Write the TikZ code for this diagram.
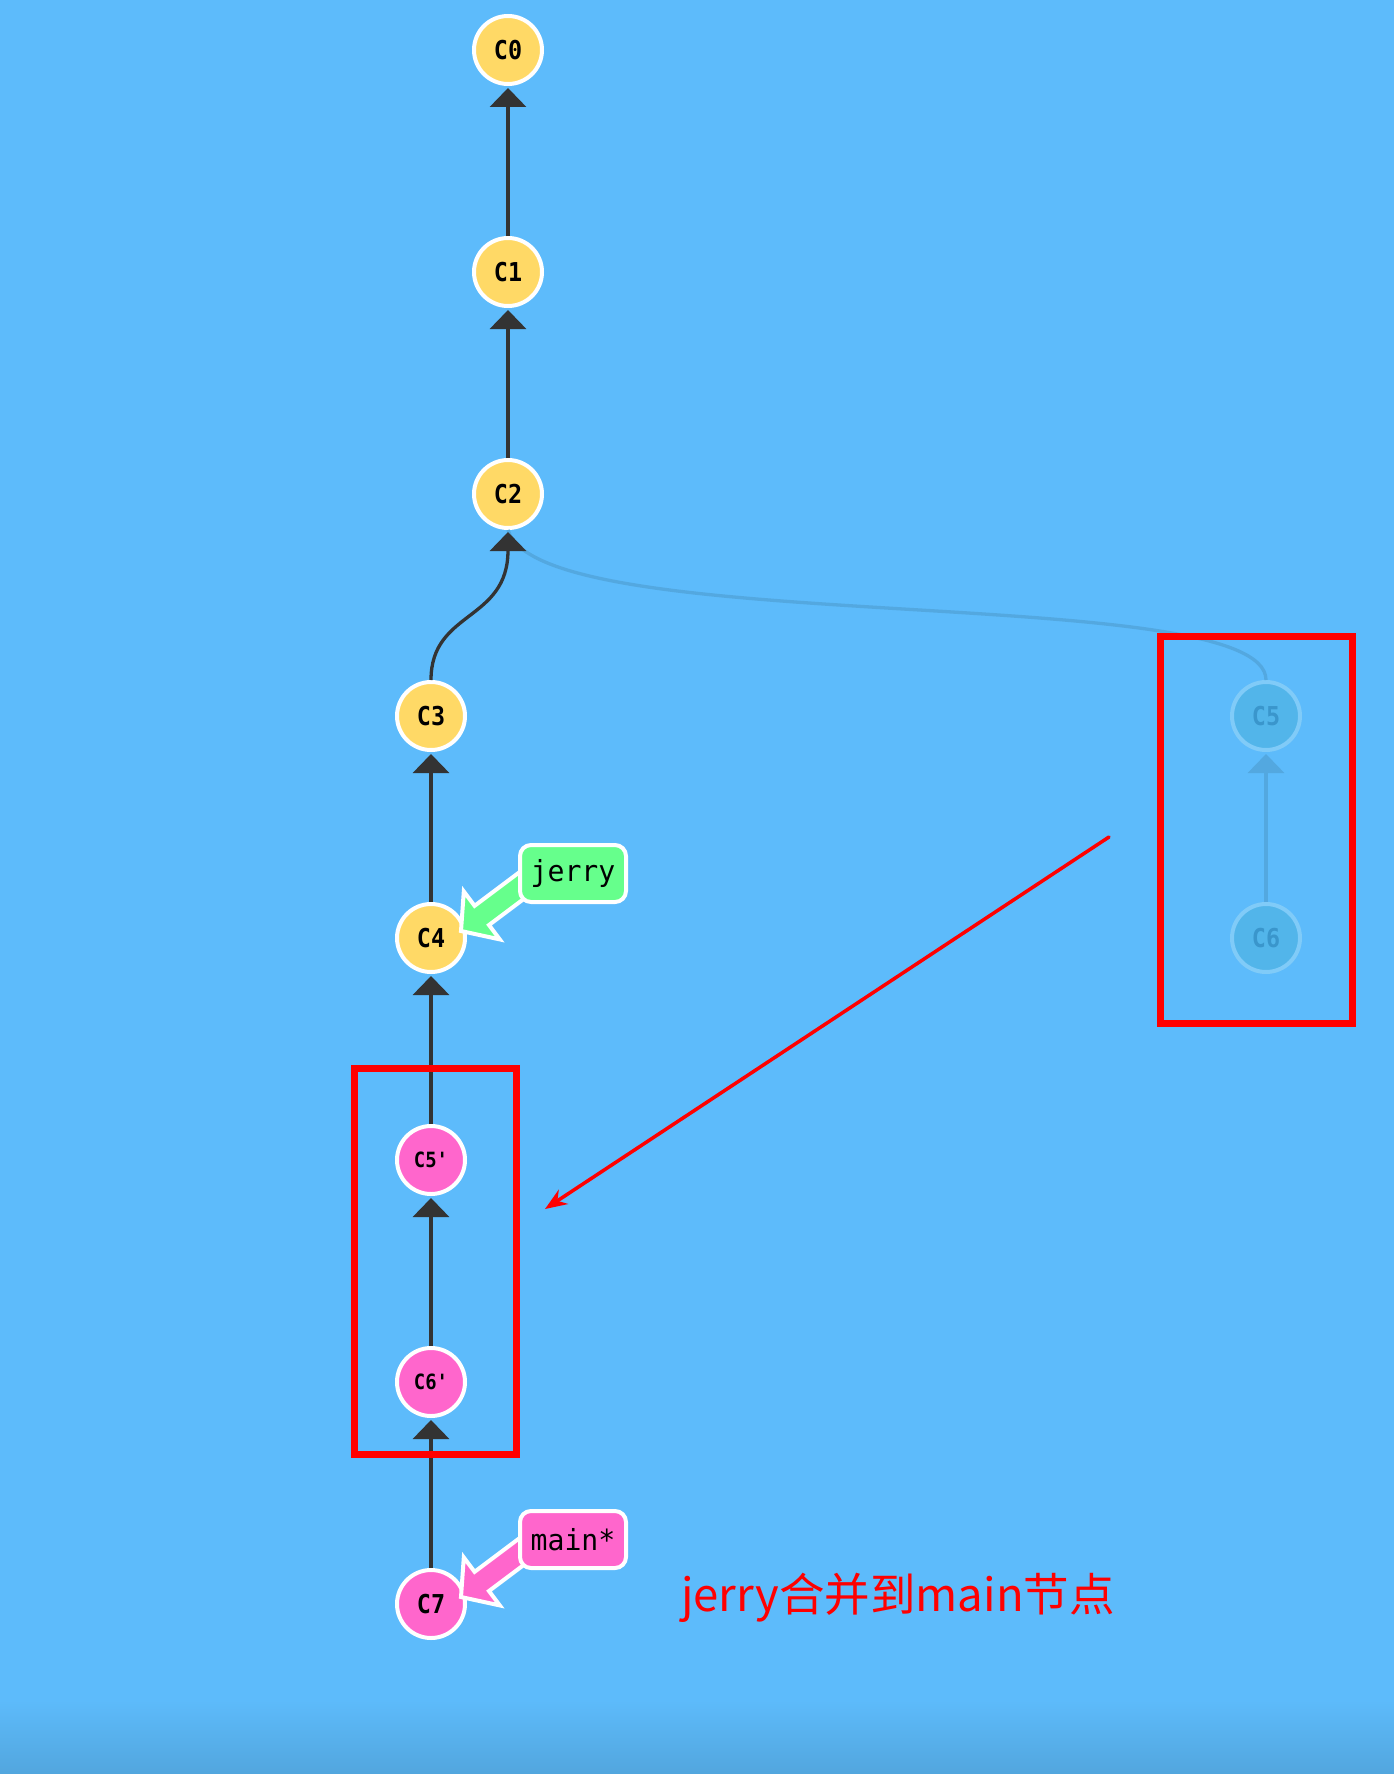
\documentclass[tikz,border=0pt]{standalone}
\usepackage{fontspec}
\setmainfont{DejaVu Sans}
\newfontfamily\monofont[FakeStretch=0.9,Ligatures=TeXOff]{DejaVu Sans Mono}
\newfontfamily\labelfont[FakeStretch=0.97,Ligatures=TeXOff]{DejaVu Sans Mono}
\newfontfamily\cjkfont{Noto Sans CJK SC}
\usetikzlibrary{arrows.meta}
\definecolor{bg}{HTML}{5DBBFB}
\definecolor{bgdark}{HTML}{52A6DE}
\definecolor{cyellow}{HTML}{FFD966}
\definecolor{cpink}{HTML}{FF66CC}
\definecolor{cgreen}{HTML}{66FF8C}
\definecolor{cdark}{HTML}{333333}
\definecolor{fadefill}{HTML}{52B5EA}
\definecolor{fadeborder}{HTML}{80CBF8}
\definecolor{fadetext}{HTML}{3A96CC}
\definecolor{fadeline}{HTML}{53A8E0}
\tikzset{
  commit/.style={circle, draw=white, line width=4pt, minimum size=68pt, inner sep=0pt,
    font=\monofont\bfseries\fontsize{26}{26}\selectfont},
  small/.style={font=\monofont\bfseries\fontsize{21}{21}\selectfont},
  yel/.style={commit, fill=cyellow},
  pnk/.style={commit, fill=cpink},
  faded/.style={commit, fill=fadefill, draw=fadeborder, text=fadetext},
  parentlink/.style={draw=cdark, line width=3.3pt, -{Triangle[width=36pt,length=19pt]}, shorten >=2pt},
  fadedlink/.style={draw=fadeline, line width=3.3pt},
  branchlabel/.style={draw=white, line width=4pt, rounded corners=11pt, minimum width=106pt,
    minimum height=57pt, inner sep=0pt, text=black, font=\labelfont\fontsize{29}{29}\selectfont},
  fatarrow/.style={draw=white, line width=4pt, line join=miter},
  redbox/.style={draw=red, line width=7pt},
  redarrow/.style={draw=red, line width=3.5pt, line cap=round, -{Stealth[length=22pt,width=17pt]}},
}
\begin{document}
\begin{tikzpicture}[x=1pt,y=-1pt]
\useasboundingbox (0,0) rectangle (1394,1774);
\fill[bg] (0,0) rectangle (1394,1774);
\shade[top color=bg, bottom color=bgdark] (0,1700) rectangle (1394,1774);

% commits
\node[yel] (c0) at (508,50) {C0};
\node[yel] (c1) at (508,272) {C1};
\node[yel] (c2) at (508,494) {C2};
\node[yel] (c3) at (431,716) {C3};
\node[yel] (c4) at (431,938) {C4};
\node[pnk, small] (c5p) at (431,1160) {C5'};
\node[pnk, small] (c6p) at (431,1382) {C6'};
\node[pnk] (c7) at (431,1604) {C7};
\node[faded] (c5) at (1266,716) {C5};
\node[faded] (c6) at (1266,938) {C6};

% faded links
\draw[fadedlink] (c5.north) .. controls (1266,580) and (540,640) .. (c2.south);
\draw[fadedlink, -{Triangle[width=36pt,length=19pt]}, shorten >=2pt] (c6.north) -- (c5.south);

% parent links
\draw[parentlink] (c1.north) -- (c0.south);
\draw[parentlink] (c2.north) -- (c1.south);
\draw[parentlink] (c3.north) .. controls (431,610) and (508,622) .. (c2.south);
\draw[parentlink] (c4.north) -- (c3.south);
\draw[parentlink] (c5p.north) -- (c4.south);
\draw[parentlink] (c6p.north) -- (c5p.south);
\draw[parentlink] (c7.north) -- (c6p.south);

% branch pointers
\begin{scope}[shift={(c4)}]
  \draw[fatarrow, fill=cgreen] (30,-7) -- (32.8,-46.6) -- (43.6,-32.2) -- (91.6,-68.2)
    -- (106,-49) -- (58,-13) -- (68.8,1.4) -- cycle;
\end{scope}
\node[branchlabel, fill=cgreen] (jerry) at (573,873.5) {jerry};
\begin{scope}[shift={(c7)}]
  \draw[fatarrow, fill=cpink] (30,-7) -- (32.8,-46.6) -- (43.6,-32.2) -- (91.6,-68.2)
    -- (106,-49) -- (58,-13) -- (68.8,1.4) -- cycle;
\end{scope}
\node[branchlabel, fill=cpink] (main) at (573,1539.5) {main*};

% annotations
\draw[redbox] (1160.7,636.7) rectangle (1352.7,1023.7);
\draw[redbox] (354.3,1068.3) rectangle (516.7,1454.3);
\coordinate (rs) at (1109,837);
\coordinate (re) at (545,1209);
\draw[redarrow] (rs) -- (re);
\node[anchor=west, inner sep=0pt, text=red, font=\cjkfont\fontsize{45.5}{45.5}\selectfont] (cap) at (681,1598) {jerry合并到main节点};
\end{tikzpicture}
\end{document}
